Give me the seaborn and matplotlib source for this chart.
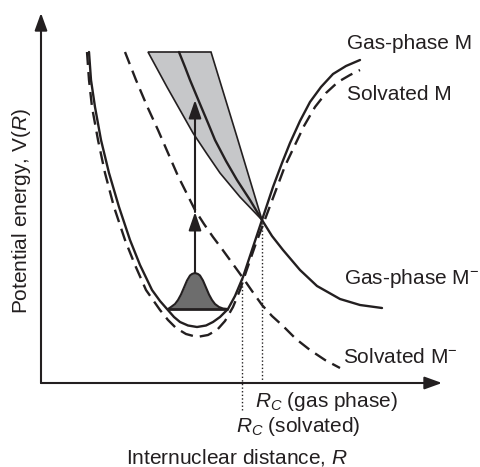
import numpy as np
import matplotlib
matplotlib.use("Agg")
import matplotlib.pyplot as plt
from matplotlib.patches import FancyArrowPatch
import seaborn as sns

# ---- Potential energy curves (R: internuclear distance, V: energy, arbitrary units)
gas_m_R = [48, 50, 54, 60, 68, 78, 89, 99, 111, 119, 126, 133, 139, 147, 156, 165, 172,
           179, 187, 194, 202, 211, 221, 232, 241, 249, 259, 269, 280, 292, 305, 319]
gas_m_V = [331, 303, 276, 243, 210, 176, 143, 118, 93, 82, 74, 66, 61, 57.5, 56, 57.5, 61,
           66, 74, 87, 106, 133, 163, 196, 220, 240, 262, 281, 296, 309, 317, 323]

solv_m_R = [46, 48, 51, 57, 64, 73, 84, 94, 105, 112, 119, 127, 135, 145, 156, 167, 176,
            184, 192, 199, 205, 214, 223, 235, 244, 253, 263, 274, 285, 297, 309, 319]
solv_m_V = [331, 303, 276, 243, 210, 176, 143, 118, 93, 83, 73, 63, 55, 49, 46, 48, 53,
            62, 76, 93, 111, 137, 161, 193, 217, 236, 257, 276, 290, 301, 308, 313]

gas_anion_R = [138, 144, 149, 154, 159, 167, 174, 185, 196, 209, 221, 231, 242, 259, 276,
               299, 319, 341]
gas_anion_V = [331, 316, 303, 291, 279, 260, 243, 222, 203, 183, 163, 147, 133, 113, 97,
               84, 78, 75]

solv_anion_R = [84, 95, 106, 117, 127, 137, 146, 154, 163, 172, 181, 189, 202, 211, 221,
                231, 242, 255, 269, 284, 299]
solv_anion_V = [331, 303, 277, 253, 230, 207, 189, 173, 159, 146, 134, 123, 105, 92, 78,
                67, 57, 44, 33, 23, 15]

# Spread of the gas-phase anion curve (shaded band)
band_left_R = [107, 126, 139, 152, 166, 179, 199, 221]
band_left_V = [331, 296, 273, 250, 229, 210, 186, 163]
band_right_R = [170, 196, 221]
band_right_V = [331, 246, 163]

# Ground vibrational wavepacket
packet_R = [127, 130, 134, 137, 140, 143, 146, 149, 151, 154, 157, 159, 162, 165,
            168, 171, 174, 178, 182, 187]
packet_V = [74, 76, 79, 83, 88.5, 95.5, 102.5, 107.5, 109, 110, 109, 107.5, 102.5, 95.5,
            88.5, 83, 79, 76, 74.5, 74]
packet_base = 74

# Vertical excitation
excite_R = 154
excite_V = [110, 171, 283]

# Curve crossings
rc_gas = (221, 163)
rc_solv = (201, 105)
rc_solv_bottom = -27

# Axis extents
axis_top = 370
axis_right = 401

INK = "#231f20"
BAND = "#c6c7c9"
PACKET = "#6d6d6d"

sns.set_style("white")
plt.rcParams["font.family"] = ["Liberation Sans", "DejaVu Sans"]
plt.rcParams["mathtext.fontset"] = "custom"
plt.rcParams["mathtext.rm"] = "Liberation Sans"
plt.rcParams["mathtext.it"] = "Liberation Sans:italic"
plt.rcParams["mathtext.bf"] = "Liberation Sans:bold"

fig = plt.figure(figsize=(4.8, 4.67), dpi=100)
ax = fig.add_axes([0, 0, 1, 1])
ax.set_xlim(-41, 439)
ax.set_ylim(-84, 383)
ax.axis("off")

# Shaded band
ax.fill(list(band_left_R) + list(band_right_R[::-1]),
        list(band_left_V) + list(band_right_V[::-1]),
        facecolor=BAND, edgecolor=INK, lw=1.2, zorder=1)

# Wavepacket
ax.fill_between(packet_R, packet_V, packet_base, color=PACKET, lw=0, zorder=2)
sns.lineplot(x=packet_R, y=packet_V, sort=False, estimator=None, color=INK, lw=1.5,
             ax=ax, zorder=3)
ax.hlines(packet_base, min(packet_R), max(packet_R), color=INK, lw=2, zorder=3)

dash = (0, (5.5, 3.0))
sns.lineplot(x=gas_m_R, y=gas_m_V, sort=False, estimator=None, color=INK, lw=1.7, ax=ax, zorder=4)
sns.lineplot(x=solv_m_R, y=solv_m_V, sort=False, estimator=None, color=INK, lw=1.7,
             linestyle=dash, ax=ax, zorder=4)
sns.lineplot(x=gas_anion_R, y=gas_anion_V, sort=False, estimator=None, color=INK, lw=1.7, ax=ax, zorder=4)
sns.lineplot(x=solv_anion_R, y=solv_anion_V, sort=False, estimator=None, color=INK, lw=1.7,
             linestyle=dash, ax=ax, zorder=4)

# Dotted drop lines from the crossings
dot = (0, (1, 1.6))
ax.vlines(rc_gas[0], 0, rc_gas[1], color=INK, lw=1.0, linestyles=[dot], zorder=3)
ax.vlines(rc_solv[0], rc_solv_bottom, rc_solv[1], color=INK, lw=1.0, linestyles=[dot], zorder=3)

# Excitation arrow with two heads
head = "-|>,head_length=11,head_width=3.8"
for v0, v1 in zip(excite_V[:-1], excite_V[1:]):
    ax.add_patch(FancyArrowPatch((excite_R, v0), (excite_R, v1), arrowstyle=head,
                                 mutation_scale=1, lw=1.5, color=INK,
                                 shrinkA=0, shrinkB=0, zorder=5))

# Axes drawn as arrows
axhead = "-|>,head_length=10.5,head_width=3.8"
ax.add_patch(FancyArrowPatch((0, 0), (0, axis_top), arrowstyle=axhead, mutation_scale=1,
                             lw=1.5, color=INK, shrinkA=0, shrinkB=0, zorder=5))
ax.add_patch(FancyArrowPatch((0, 0), (axis_right, 0), arrowstyle=axhead, mutation_scale=1,
                             lw=1.5, color=INK, shrinkA=0, shrinkB=0, zorder=5))

fs = 15
txt = dict(color=INK, fontsize=fs, va="baseline", ha="left")
ax.text(306, 334, "Gas-phase M", **txt)
ax.text(306, 283, "Solvated M", **txt)
ax.text(303, 99, "Gas-phase M$^{-}$", **txt)
ax.text(302, 20, "Solvated M$^{-}$", **txt)
ax.text(214, -24, "$R_C$ (gas phase)", **txt)
ax.text(195, -49, "$R_C$ (solvated)", **txt)
ax.text(196, -80, "Internuclear distance, $R$", color=INK, fontsize=fs,
        va="baseline", ha="center")
ax.text(-14, 172, "Potential energy, V($R$)", color=INK, fontsize=fs, rotation=90,
        rotation_mode="anchor", va="baseline", ha="center")

fig.savefig("out.png", dpi=100)
